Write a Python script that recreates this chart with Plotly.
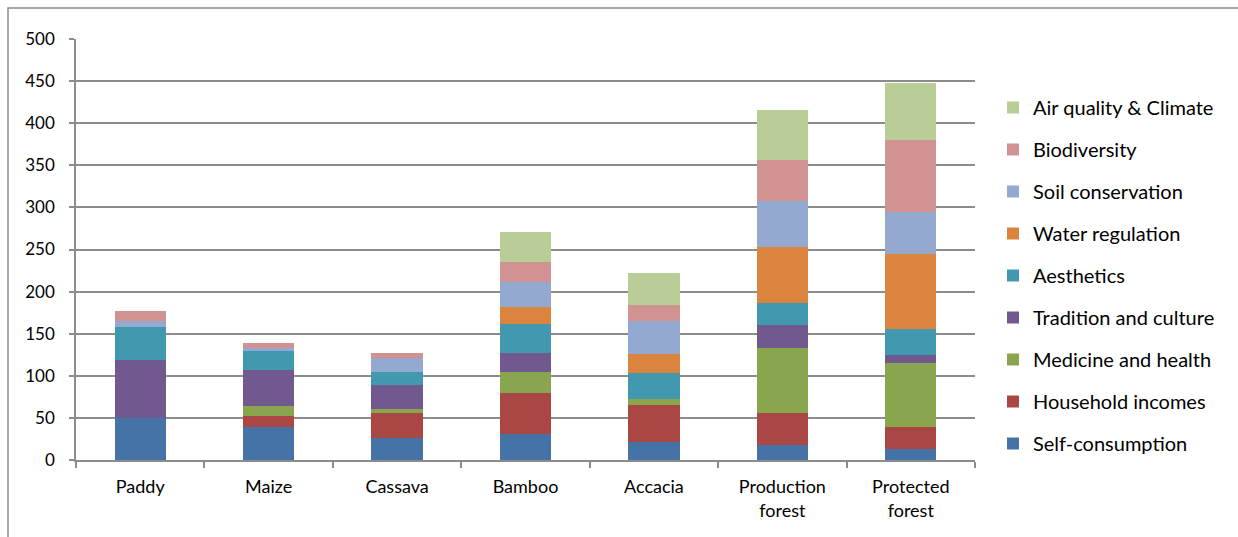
import plotly.graph_objects as go

categories = ["Paddy", "Maize", "Cassava", "Bamboo", "Accacia", "Production<br>forest", "Protected<br>forest"]

self_consumption = [50, 39, 26, 31, 21, 18, 13]
household_incomes = [0, 13, 30, 48, 44, 38, 26]
medicine_health = [0, 12, 5, 25, 7, 77, 76]
tradition_culture = [69, 43, 28, 23, 0, 27, 10]
aesthetics = [39, 22, 15, 34, 31, 27, 30]
water_regulation = [0, 0, 0, 21, 23, 66, 90]
soil_conservation = [7, 4, 17, 30, 39, 55, 50]
biodiversity = [12, 6, 6, 23, 19, 48, 85]
air_quality = [0, 0, 0, 36, 38, 60, 68]

series = [
    ("Self-consumption", self_consumption, "#4572A7"),
    ("Household incomes", household_incomes, "#AA4643"),
    ("Medicine and health", medicine_health, "#89A54E"),
    ("Tradition and culture", tradition_culture, "#71588F"),
    ("Aesthetics", aesthetics, "#4198AF"),
    ("Water regulation", water_regulation, "#DB843D"),
    ("Soil conservation", soil_conservation, "#93A9CF"),
    ("Biodiversity", biodiversity, "#D19392"),
    ("Air quality & Climate", air_quality, "#B9CD96"),
]

y_ticks = list(range(0, 501, 50))

fig = go.Figure()
n = len(series)
for i, (name, vals, color) in enumerate(series):
    fig.add_trace(go.Bar(
        x=categories, y=vals, name=name, legendgroup=name,
        legendrank=n - i,
        marker=dict(color=color, line=dict(width=0)),
    ))

W, H = 1238, 537
L, R, T, B = 76, 975, 39, 460
grid = "#8c8c8c"
fig.update_layout(
    width=W, height=H,
    barmode="stack", bargap=0.6,
    margin=dict(l=L, r=W - R, t=T, b=H - B, pad=0),
    plot_bgcolor="white", paper_bgcolor="white",
    font=dict(family="Lato, Open Sans, sans-serif", size=17, color="#000000"),
    legend=dict(
        x=(993 - L) / (R - L), xanchor="left",
        y=(B - 88) / (B - T), yanchor="top",
        traceorder="grouped", tracegroupgap=13,
        font=dict(size=20),
        itemwidth=30,
    ),
    xaxis=dict(
        showline=True, linecolor=grid, linewidth=1.5,
        ticks="outside", tickson="boundaries", ticklen=6, tickcolor=grid, tickwidth=1.5,
        showgrid=False, tickfont=dict(size=18), ticklabelstandoff=10,
    ),
    yaxis=dict(
        range=[0, 500], tickvals=y_ticks,
        showline=True, linecolor=grid, linewidth=1.5,
        ticks="outside", ticklen=5, tickcolor=grid, tickwidth=1.5,
        showgrid=True, gridcolor=grid, gridwidth=1.5,
        zeroline=False, ticklabelstandoff=11,
    ),
    shapes=[dict(
        type="rect", xref="paper", yref="paper",
        x0=(8 - L) / (R - L), x1=1.6, y0=-0.5, y1=(B - 8) / (B - T),
        line=dict(color="#8c8c8c", width=1.5), fillcolor="rgba(0,0,0,0)", layer="below",
    )],
)

fig.write_html("out.html")
